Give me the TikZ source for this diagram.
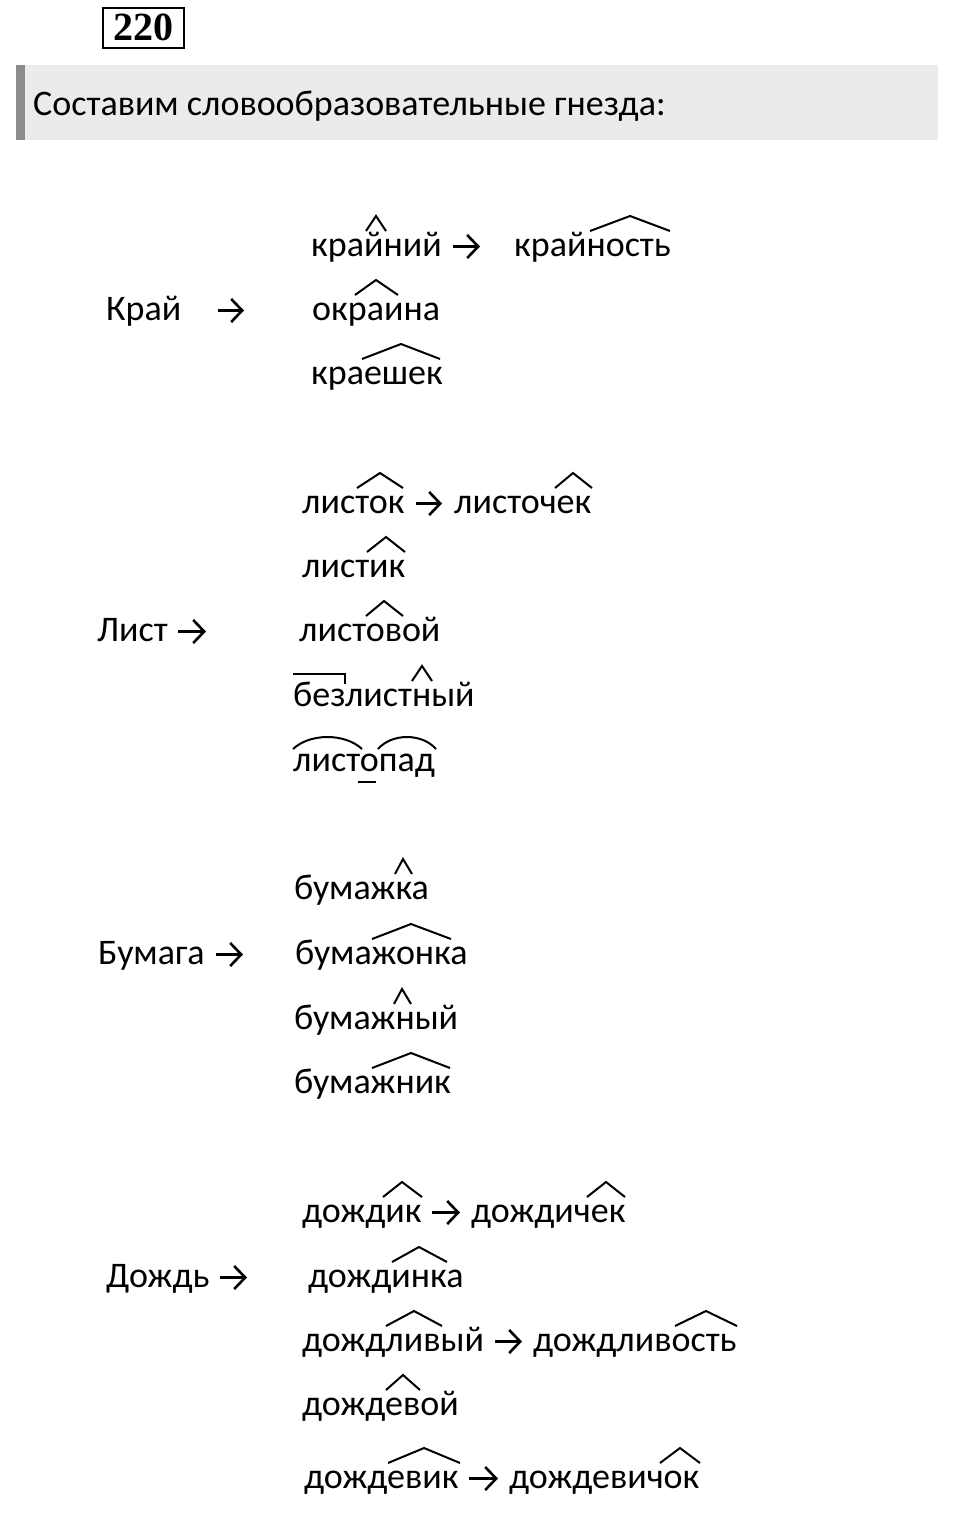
\documentclass[tikz,border=0pt]{standalone}
\usepackage{fontspec}
\setmainfont{Carlito}
\newfontfamily\numfont{Liberation Serif}
\usetikzlibrary{arrows.meta}

\begin{document}
\begin{tikzpicture}[x=1pt,y=-1pt]
	\tikzset{every node/.style={inner sep=0pt, anchor=base west, text height=25pt, text depth=6pt, font=\fontsize{36}{42}\selectfont}}
	\tikzset{arr/.style={line width=2.6pt, -{Straight Barb[length=11pt,width=23pt]}}}
	\tikzset{morph/.style={line width=2pt}}
	\useasboundingbox (0,0) rectangle (960,1539);
	% header
	\draw [line width=2.5pt] (103,8) rectangle (184,48);
	\node (num) at (143.5,40) [anchor=base, text height=26pt, text depth=0pt, font=\numfont\bfseries\fontsize{40}{44}\selectfont] {220};
	\fill [black!8] (16,65) rectangle (938,140);
	\fill [black!45] (16,65) rectangle (25,140);
	\node (title) at (33,115) {Составим словообразовательные гнезда:};
	% Край
	\node (kraj) at (106,320) {Край};
	\node (kraynij) at (311,256) {крайний};
	\node (kraynost) at (514,256) {крайность};
	\node (okraina) at (312,320) {окраина};
	\node (kraeshek) at (311,384) {краешек};
	\draw [arr, shorten <=11pt, shorten >=34pt] (kraynij.east) -- (kraynost.west);
	\draw [arr, shorten <=36pt, shorten >=68pt] (kraj.east) -- (kraj.east -| okraina.west);
	\draw [morph] (366,231) -- (376,216) -- (386,231);
	\draw [morph] (590,231) -- (630,216) -- (670,231);
	\draw [morph] (355,295) -- (376,280) -- (398,295);
	\draw [morph] (362,359) -- (401,344) -- (440,359);
	% Лист
	\node (list) at (97,641) {Лист};
	\node (listok) at (302,513) {листок};
	\node (listochek) at (454,513) {листочек};
	\node (listik) at (302,577) {листик};
	\node (listovoj) at (299,641) {листовой};
	\node (bezlistnyj) at (293,706) {безлистный};
	\node (listopad) at (293,771) {листопад};
	\draw [arr, shorten <=11pt, shorten >=12pt] (listok.east) -- (listochek.west);
	\draw [arr, shorten <=10pt, shorten >=93pt] (list.east) -- (list.east -| listovoj.west);
	\draw [morph] (357,488) -- (380,473) -- (403,488);
	\draw [morph] (555,488) -- (573,473) -- (592,488);
	\draw [morph] (367,552) -- (386,537) -- (405,552);
	\draw [morph] (366,616) -- (384,601) -- (403,616);
	\draw [morph] (293,674) -- (345,674) -- (345,684);
	\draw [morph] (412,681) -- (422,666) -- (432,681);
	\draw [morph] (293,749) .. controls (310,733) and (345,733) .. (362,749);
	\draw [morph] (378,749) .. controls (392,733) and (422,733) .. (436,749);
	\draw [morph] (358,782) -- (376,782);
	% Бумага
	\node (bumaga) at (98,964) {Бумага};
	\node (bumazhka) at (294,899) {бумажка};
	\node (bumazhonka) at (295,964) {бумажонка};
	\node (bumazhnyj) at (294,1029) {бумажный};
	\node (bumazhnik) at (294,1093) {бумажник};
	\draw [arr, shorten <=11pt, shorten >=52pt] (bumaga.east) -- (bumaga.east -| bumazhonka.west);
	\draw [morph] (395,874) -- (403,859) -- (412,874);
	\draw [morph] (372,939) -- (411,924) -- (451,939);
	\draw [morph] (394,1004) -- (402,989) -- (411,1004);
	\draw [morph] (372,1068) -- (411,1053) -- (450,1068);
	% Дождь
	\node (dozhd) at (106,1287) {Дождь};
	\node (dozhdik) at (302,1222) {дождик};
	\node (dozhdichek) at (471,1222) {дождичек};
	\node (dozhdinka) at (308,1287) {дождинка};
	\node (dozhdlivyj) at (302,1351) {дождливый};
	\node (dozhdlivost) at (533,1351) {дождливость};
	\node (dozhdevoj) at (302,1415) {дождевой};
	\node (dozhdevik) at (304,1488) {дождевик};
	\node (dozhdevichok) at (509,1488) {дождевичок};
	\draw [arr, shorten <=10pt, shorten >=11pt] (dozhdik.east) -- (dozhdichek.west);
	\draw [arr, shorten <=10pt, shorten >=61pt] (dozhd.east) -- (dozhd.east -| dozhdinka.west);
	\draw [arr, shorten <=11pt, shorten >=11pt] (dozhdlivyj.east) -- (dozhdlivost.west);
	\draw [arr, shorten <=10pt, shorten >=11pt] (dozhdevik.east) -- (dozhdevichok.west);
	\draw [morph] (383,1197) -- (402,1182) -- (422,1197);
	\draw [morph] (587,1197) -- (606,1182) -- (625,1197);
	\draw [morph] (392,1262) -- (419,1247) -- (447,1262);
	\draw [morph] (386,1326) -- (414,1311) -- (442,1326);
	\draw [morph] (675,1326) -- (706,1311) -- (737,1326);
	\draw [morph] (386,1390) -- (403,1375) -- (420,1390);
	\draw [morph] (388,1463) -- (424,1448) -- (460,1463);
	\draw [morph] (660,1463) -- (680,1448) -- (700,1463);
\end{tikzpicture}
\end{document}
